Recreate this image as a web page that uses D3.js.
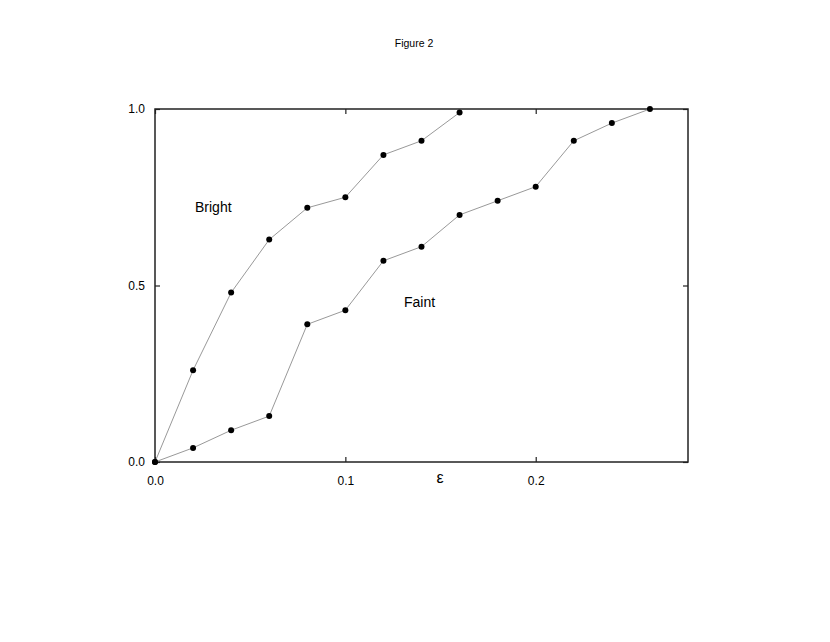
<!DOCTYPE html>
<html>
<head>
<meta charset="utf-8">
<title>Figure 2</title>
<style>
body { margin: 0; background: #fff; }
svg text { font-family: "Liberation Sans", Arial, Helvetica, sans-serif; fill: #000; }
.title { font-size: 10.5px; text-anchor: middle; }
.frame { fill: none; stroke: #222; stroke-width: 1.5; }
.axis path { display: none; }
.axis line { stroke: #222; stroke-width: 1.2; }
.axis text { font-size: 12px; }
.curve { fill: none; stroke: #999; stroke-width: 1; }
.dot { fill: #000; }
.label { font-size: 14px; }
.xlabel { font-size: 16px; text-anchor: middle; }
</style>
</head>
<body>
<svg width="830" height="642"></svg>
<script src="https://cdnjs.cloudflare.com/ajax/libs/d3/7.8.5/d3.min.js"></script>
<script>
// data
var brightX = [0, 0.02, 0.04, 0.06, 0.08, 0.10, 0.12, 0.14, 0.16];
var brightY = [0, 0.26, 0.48, 0.63, 0.72, 0.75, 0.87, 0.91, 0.99];
var faintX = [0, 0.02, 0.04, 0.06, 0.08, 0.10, 0.12, 0.14, 0.16, 0.18, 0.20, 0.22, 0.24, 0.26];
var faintY = [0, 0.04, 0.09, 0.13, 0.39, 0.43, 0.57, 0.61, 0.70, 0.74, 0.78, 0.91, 0.96, 1.0];
var xTicks = [0, 0.1, 0.2];
var yTicks = [0, 0.5, 1.0];

var pArea = [155, 109, 688, 462];

var x = d3.scaleLinear()
  .domain([0, 0.28])
  .range([pArea[0], pArea[2]]);
var y = d3.scaleLinear()
  .domain([0, 1])
  .range([pArea[3], pArea[1]]);

var svg = d3.select("svg");
var g = svg.append("g");

g.append("text")
  .attr("class", "title")
  .attr("x", 414)
  .attr("y", 47)
  .text("Figure 2");

var fmt = d3.format(".1f");

g.append("g")
  .attr("class", "axis")
  .attr("transform", `translate(0,${pArea[3]})`)
  .call(d3.axisBottom(x).tickValues(xTicks).tickSizeInner(-5).tickSizeOuter(0).tickPadding(14).tickFormat(fmt));
g.append("g")
  .attr("class", "axis")
  .attr("transform", `translate(0,${pArea[1]})`)
  .call(d3.axisTop(x).tickValues(xTicks).tickSizeInner(-5).tickSizeOuter(0).tickFormat(""));
g.append("g")
  .attr("class", "axis")
  .attr("transform", `translate(${pArea[0]},0)`)
  .call(d3.axisLeft(y).tickValues(yTicks).tickSizeInner(-5).tickSizeOuter(0).tickPadding(10).tickFormat(fmt));
g.append("g")
  .attr("class", "axis")
  .attr("transform", `translate(${pArea[2]},0)`)
  .call(d3.axisRight(y).tickValues(yTicks).tickSizeInner(-5).tickSizeOuter(0).tickFormat(""));

g.append("rect")
  .attr("class", "frame")
  .attr("x", pArea[0])
  .attr("y", pArea[1])
  .attr("width", pArea[2] - pArea[0])
  .attr("height", pArea[3] - pArea[1]);

g.append("text")
  .attr("class", "xlabel")
  .attr("x", 440)
  .attr("y", 483)
  .text("ε");

var line = d3.line()
  .x(function (d) { return x(d[0]); })
  .y(function (d) { return y(d[1]); });

function drawSeries(xs, ys) {
  var pts = xs.map(function (v, i) { return [v, ys[i]]; });
  g.append("path")
    .attr("class", "curve")
    .attr("d", line(pts));
  g.selectAll(null)
    .data(pts)
    .enter().append("circle")
    .attr("class", "dot")
    .attr("cx", function (d) { return x(d[0]); })
    .attr("cy", function (d) { return y(d[1]); })
    .attr("r", 3);
}
drawSeries(brightX, brightY);
drawSeries(faintX, faintY);

g.append("text")
  .attr("class", "label")
  .attr("x", 195)
  .attr("y", 212)
  .text("Bright");
g.append("text")
  .attr("class", "label")
  .attr("x", 404)
  .attr("y", 307)
  .text("Faint");
</script>
</body>
</html>
